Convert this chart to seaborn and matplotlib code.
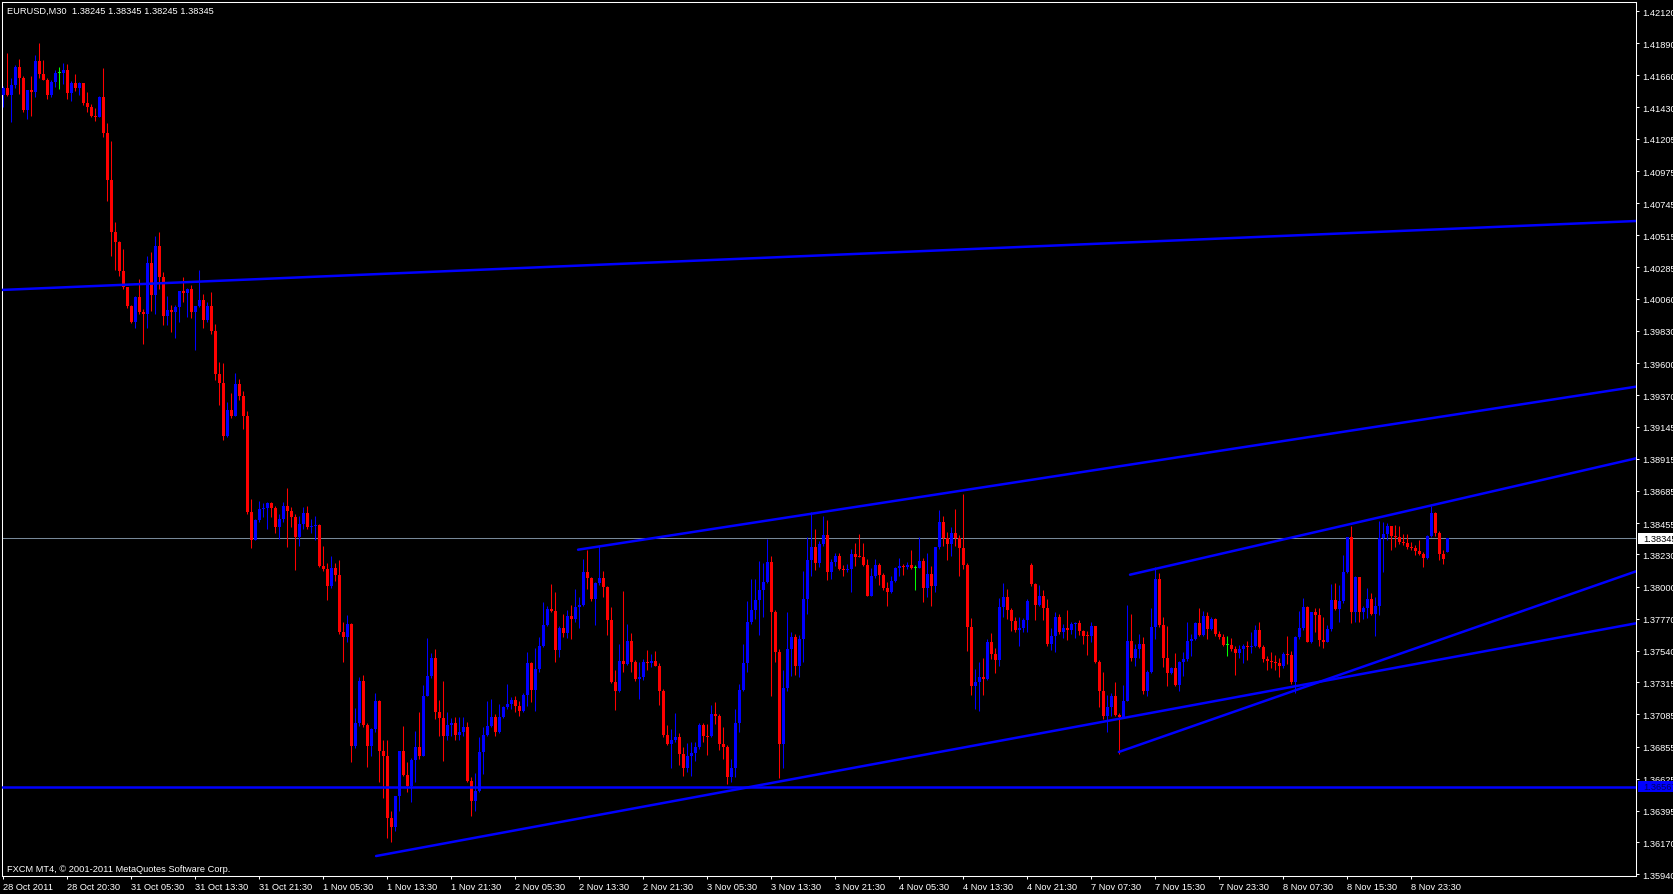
import matplotlib
matplotlib.use("Agg")
import matplotlib.pyplot as plt
import matplotlib.transforms as mtransforms
import numpy as np
import pandas as pd
import seaborn as sns

# --- Textos do gráfico ---
chart_title = "EURUSD,M30  1.38245 1.38345 1.38245 1.38345"
footer_text = "FXCM MT4, \u00a9 2001-2011 MetaQuotes Software Corp."

# --- Candles M30 ---
first_open = 1.41521
gap_opens = {257: 1.38154, 361: 1.38245}   # aberturas com gap (segunda-feira / barra atual)

close_px = [
    1.41569, 1.41521, 1.41593, 1.41719, 1.41643, 1.41411, 1.41554, 1.41538, 1.41762, 1.41669,  # 0
    1.41628, 1.41521, 1.41612, 1.41678, 1.41678, 1.41697, 1.41535, 1.41604, 1.41569, 1.41604,  # 10
    1.41464, 1.41430, 1.41368, 1.41364, 1.41507, 1.41249, 1.40910, 1.40538, 1.40469, 1.40256,  # 20
    1.40142, 1.40008, 1.39891, 1.40073, 1.39963, 1.39951, 1.40316, 1.40089, 1.40435, 1.40218,  # 30
    1.39939, 1.39979, 1.39967, 1.40003, 1.40115, 1.40104, 1.40130, 1.39967, 1.40008, 1.40051,  # 40
    1.39908, 1.40008, 1.39829, 1.39523, 1.39455, 1.39078, 1.39263, 1.39220, 1.39448, 1.39363,  # 50
    1.39220, 1.38536, 1.38333, 1.38476, 1.38554, 1.38565, 1.38597, 1.38565, 1.38426, 1.38483,  # 60
    1.38579, 1.38544, 1.38501, 1.38355, 1.38451, 1.38529, 1.38429, 1.38435, 1.38440, 1.38145,  # 70
    1.38127, 1.38002, 1.38134, 1.38084, 1.37674, 1.37641, 1.37735, 1.36862, 1.37023, 1.37325,  # 80
    1.37008, 1.36861, 1.36980, 1.37180, 1.36822, 1.36789, 1.36343, 1.36280, 1.36499, 1.36822,  # 90
    1.36651, 1.36574, 1.36758, 1.36849, 1.36789, 1.37218, 1.37357, 1.37486, 1.37104, 1.37056,  # 100
    1.36932, 1.37008, 1.37023, 1.36939, 1.36956, 1.36992, 1.36610, 1.36467, 1.36538, 1.36813,  # 110
    1.36937, 1.36999, 1.37063, 1.36956, 1.37063, 1.37135, 1.37156, 1.37187, 1.37147, 1.37109,  # 120
    1.37223, 1.37452, 1.37261, 1.37409, 1.37572, 1.37724, 1.37839, 1.37825, 1.37545, 1.37700,  # 130
    1.37667, 1.37786, 1.37767, 1.37851, 1.37867, 1.38101, 1.38058, 1.37910, 1.38025, 1.38058,  # 140
    1.37999, 1.37760, 1.37314, 1.37254, 1.37467, 1.37445, 1.37612, 1.37462, 1.37338, 1.37354,  # 150
    1.37457, 1.37455, 1.37467, 1.37433, 1.37254, 1.36937, 1.36872, 1.36901, 1.36920, 1.36801,  # 160
    1.36701, 1.36784, 1.36808, 1.36849, 1.37008, 1.36932, 1.36927, 1.37087, 1.37075, 1.36872,  # 170
    1.36854, 1.36640, 1.36700, 1.37023, 1.37260, 1.37453, 1.37744, 1.37832, 1.37904, 1.37976,  # 180
    1.38030, 1.38178, 1.37820, 1.37534, 1.36873, 1.37272, 1.37553, 1.37641, 1.37429, 1.37625,  # 190
    1.37911, 1.38190, 1.38281, 1.38169, 1.38302, 1.38369, 1.38107, 1.38178, 1.38221, 1.38126,  # 200
    1.38121, 1.38126, 1.38233, 1.38214, 1.38212, 1.38155, 1.37935, 1.38073, 1.38155, 1.38083,  # 210
    1.37990, 1.37964, 1.38040, 1.38131, 1.38145, 1.38140, 1.38155, 1.38133, 1.38133, 1.38183,  # 220
    1.37990, 1.38088, 1.38007, 1.38281, 1.38460, 1.38345, 1.38305, 1.38384, 1.38345, 1.38276,  # 230
    1.38157, 1.37708, 1.37291, 1.37319, 1.37350, 1.37338, 1.37601, 1.37517, 1.37477, 1.37856,  # 240
    1.37923, 1.37832, 1.37756, 1.37691, 1.37701, 1.37763, 1.37899, 1.38018, 1.37868, 1.37930,  # 250
    1.37847, 1.37589, 1.37649, 1.37780, 1.37672, 1.37701, 1.37691, 1.37732, 1.37739, 1.37684,  # 260
    1.37649, 1.37645, 1.37715, 1.37458, 1.37255, 1.37071, 1.37136, 1.37214, 1.37081, 1.37069,  # 270
    1.37183, 1.37608, 1.37489, 1.37553, 1.37589, 1.37255, 1.37386, 1.37708, 1.38054, 1.37725,  # 280
    1.37486, 1.37381, 1.37415, 1.37295, 1.37458, 1.37482, 1.37613, 1.37625, 1.37737, 1.37653,  # 290
    1.37787, 1.37696, 1.37768, 1.37661, 1.37637, 1.37584, 1.37584, 1.37553, 1.37525, 1.37553,  # 300
    1.37577, 1.37565, 1.37577, 1.37692, 1.37565, 1.37482, 1.37470, 1.37458, 1.37453, 1.37429,  # 310
    1.37517, 1.37510, 1.37315, 1.37641, 1.37701, 1.37851, 1.37606, 1.37816, 1.37797, 1.37620,  # 320
    1.37606, 1.37696, 1.37904, 1.37840, 1.37899, 1.38102, 1.38353, 1.37816, 1.38066, 1.37816,  # 330
    1.37844, 1.37911, 1.37804, 1.37859, 1.38345, 1.38376, 1.38431, 1.38360, 1.38355, 1.38317,  # 340
    1.38312, 1.38286, 1.38276, 1.38252, 1.38233, 1.38202, 1.38360, 1.38527, 1.38384, 1.38230,  # 350
    1.38200, 1.38345,                                                                          # 360
]

high_px = [
    1.41585, 1.41819, 1.41638, 1.41733, 1.41776, 1.41655, 1.41556, 1.41657, 1.41805, 1.41891,
    1.41769, 1.41640, 1.41628, 1.41695, 1.41719, 1.41750, 1.41740, 1.41616, 1.41669, 1.41614,
    1.41604, 1.41540, 1.41452, 1.41425, 1.41511, 1.41712, 1.41320, 1.41189, 1.40609, 1.40473,
    1.40416, 1.40147, 1.40015, 1.40077, 1.40201, 1.39987, 1.40366, 1.40395, 1.40507, 1.40538,
    1.40249, 1.40082, 1.40015, 1.40018, 1.40117, 1.40216, 1.40139, 1.40158, 1.40010, 1.40266,
    1.40092, 1.40039, 1.40111, 1.39883, 1.39605, 1.39598, 1.39320, 1.39384, 1.39527, 1.39484,
    1.39398, 1.39256, 1.38625, 1.38483, 1.38615, 1.38601, 1.38608, 1.38604, 1.38579, 1.38519,
    1.38608, 1.38704, 1.38572, 1.38519, 1.38508, 1.38572, 1.38579, 1.38483, 1.38508, 1.38447,
    1.38287, 1.38170, 1.38216, 1.38170, 1.38187, 1.37746, 1.37796, 1.37742, 1.37130, 1.37350,
    1.37366, 1.37020, 1.36985, 1.37237, 1.37185, 1.36901, 1.36901, 1.36395, 1.36499, 1.36822,
    1.37004, 1.36741, 1.36770, 1.36963, 1.37099, 1.37295, 1.37629, 1.37522, 1.37552, 1.37187,
    1.37323, 1.37099, 1.37059, 1.37063, 1.37063, 1.37063, 1.37027, 1.36634, 1.36665, 1.36920,
    1.36992, 1.37183, 1.37195, 1.37087, 1.37159, 1.37147, 1.37302, 1.37207, 1.37214, 1.37183,
    1.37237, 1.37529, 1.37462, 1.37557, 1.37636, 1.37891, 1.37863, 1.38018, 1.37963, 1.37715,
    1.37803, 1.37834, 1.37867, 1.37982, 1.37927, 1.38197, 1.38261, 1.38066, 1.38034, 1.38292,
    1.38108, 1.38004, 1.37851, 1.37404, 1.37588, 1.37968, 1.37732, 1.37667, 1.37476, 1.37457,
    1.37481, 1.37548, 1.37514, 1.37536, 1.37452, 1.37264, 1.37008, 1.36980, 1.37094, 1.36951,
    1.36849, 1.36880, 1.36884, 1.36884, 1.37023, 1.37023, 1.37015, 1.37152, 1.37171, 1.37087,
    1.36992, 1.36866, 1.36766, 1.37124, 1.37303, 1.37589, 1.37899, 1.38054, 1.38054, 1.38185,
    1.38169, 1.38341, 1.38221, 1.37830, 1.37553, 1.37403, 1.37816, 1.37672, 1.37661, 1.37653,
    1.38114, 1.38353, 1.38536, 1.38412, 1.38329, 1.38503, 1.38477, 1.38197, 1.38240, 1.38240,
    1.38155, 1.38162, 1.38269, 1.38312, 1.38376, 1.38312, 1.38197, 1.38133, 1.38197, 1.38169,
    1.38098, 1.38030, 1.38078, 1.38138, 1.38202, 1.38162, 1.38178, 1.38262, 1.38155, 1.38353,
    1.38205, 1.38240, 1.38150, 1.38286, 1.38548, 1.38508, 1.38388, 1.38424, 1.38555, 1.38369,
    1.38663, 1.38166, 1.37773, 1.37410, 1.37458, 1.37486, 1.37625, 1.37665, 1.37558, 1.37916,
    1.38026, 1.37983, 1.37844, 1.37780, 1.37780, 1.37773, 1.37911, 1.38169, 1.38026, 1.38011,
    1.37978, 1.37911, 1.37704, 1.37816, 1.37804, 1.37732, 1.37832, 1.37744, 1.37744, 1.37760,
    1.37692, 1.37684, 1.37749, 1.37720, 1.37477, 1.37386, 1.37224, 1.37236, 1.37319, 1.37093,
    1.37295, 1.37868, 1.37804, 1.37589, 1.37661, 1.37637, 1.37405, 1.37844, 1.38138, 1.38097,
    1.37780, 1.37720, 1.37422, 1.37525, 1.37470, 1.37529, 1.37749, 1.37661, 1.37744, 1.37844,
    1.37828, 1.37816, 1.37780, 1.37775, 1.37684, 1.37661, 1.37649, 1.37630, 1.37577, 1.37582,
    1.37589, 1.37613, 1.37672, 1.37725, 1.37744, 1.37582, 1.37501, 1.37534, 1.37510, 1.37486,
    1.37534, 1.37644, 1.37541, 1.37649, 1.37828, 1.37916, 1.37859, 1.37821, 1.37844, 1.37844,
    1.37780, 1.37725, 1.38018, 1.38026, 1.38011, 1.38226, 1.38357, 1.38436, 1.38073, 1.38071,
    1.37863, 1.37987, 1.37954, 1.37923, 1.38472, 1.38460, 1.38455, 1.38436, 1.38441, 1.38436,
    1.38376, 1.38376, 1.38317, 1.38298, 1.38333, 1.38245, 1.38369, 1.38579, 1.38536, 1.38400,
    1.38260, 1.38345,
]

low_px = [
    1.41430, 1.41514, 1.41328, 1.41571, 1.41526, 1.41399, 1.41347, 1.41371, 1.41507, 1.41640,
    1.41626, 1.41490, 1.41502, 1.41573, 1.41561, 1.41597, 1.41490, 1.41478, 1.41550, 1.41521,
    1.41447, 1.41399, 1.41363, 1.41335, 1.41363, 1.41220, 1.40760, 1.40368, 1.40268, 1.40220,
    1.40130, 1.39991, 1.39886, 1.39848, 1.39951, 1.39740, 1.39854, 1.39975, 1.39951, 1.40130,
    1.39872, 1.39872, 1.39819, 1.39776, 1.39891, 1.40034, 1.39927, 1.39924, 1.39694, 1.39999,
    1.39848, 1.39891, 1.39811, 1.39480, 1.39302, 1.39049, 1.39071, 1.39206, 1.39220, 1.39338,
    1.39131, 1.38519, 1.38276, 1.38333, 1.38465, 1.38501, 1.38412, 1.38501, 1.38387, 1.38344,
    1.38465, 1.38280, 1.38429, 1.38120, 1.38294, 1.38412, 1.38412, 1.38387, 1.38333, 1.38138,
    1.38109, 1.37906, 1.37991, 1.38038, 1.37664, 1.37461, 1.37603, 1.36745, 1.36845, 1.37000,
    1.36992, 1.36710, 1.36789, 1.36956, 1.36603, 1.36486, 1.36200, 1.36170, 1.36250, 1.36395,
    1.36646, 1.36531, 1.36455, 1.36603, 1.36765, 1.36784, 1.37214, 1.37342, 1.37051, 1.36932,
    1.36753, 1.36901, 1.36932, 1.36901, 1.36901, 1.36932, 1.36598, 1.36355, 1.36395, 1.36526,
    1.36658, 1.36927, 1.36992, 1.36927, 1.36951, 1.37059, 1.37123, 1.37123, 1.37104, 1.37075,
    1.37104, 1.37147, 1.37171, 1.37111, 1.37385, 1.37564, 1.37715, 1.37815, 1.37462, 1.37498,
    1.37636, 1.37629, 1.37624, 1.37743, 1.37703, 1.37858, 1.37982, 1.37899, 1.37724, 1.38013,
    1.37922, 1.37653, 1.37309, 1.37118, 1.37247, 1.37385, 1.37440, 1.37390, 1.37321, 1.37195,
    1.37333, 1.37404, 1.37421, 1.37428, 1.37152, 1.36920, 1.36868, 1.36701, 1.36889, 1.36724,
    1.36641, 1.36674, 1.36641, 1.36753, 1.36837, 1.36884, 1.36796, 1.36920, 1.37015, 1.36832,
    1.36766, 1.36590, 1.36600, 1.36640, 1.36961, 1.37250, 1.37386, 1.37732, 1.37768, 1.37653,
    1.37780, 1.38026, 1.37219, 1.37458, 1.36630, 1.36700, 1.37255, 1.37362, 1.37367, 1.37355,
    1.37458, 1.37804, 1.38078, 1.38119, 1.38138, 1.38293, 1.38047, 1.38054, 1.38150, 1.38121,
    1.38078, 1.38107, 1.37964, 1.38150, 1.38209, 1.38145, 1.37930, 1.37942, 1.38059, 1.38011,
    1.37978, 1.37863, 1.37954, 1.38030, 1.38078, 1.38083, 1.38126, 1.38126, 1.37978, 1.38133,
    1.37892, 1.37923, 1.37863, 1.37959, 1.38269, 1.38293, 1.38190, 1.38221, 1.38288, 1.38078,
    1.38126, 1.37541, 1.37224, 1.37124, 1.37112, 1.37224, 1.37334, 1.37482, 1.37381, 1.37434,
    1.37780, 1.37768, 1.37684, 1.37677, 1.37572, 1.37672, 1.37672, 1.38002, 1.37763, 1.37863,
    1.37763, 1.37577, 1.37548, 1.37534, 1.37661, 1.37630, 1.37620, 1.37661, 1.37630, 1.37650,
    1.37589, 1.37510, 1.37606, 1.37453, 1.37136, 1.37052, 1.36961, 1.37076, 1.37076, 1.36800,
    1.37064, 1.37178, 1.37470, 1.37434, 1.37486, 1.37231, 1.37214, 1.37381, 1.37625, 1.37708,
    1.37422, 1.37291, 1.37374, 1.37291, 1.37255, 1.37358, 1.37470, 1.37505, 1.37620, 1.37649,
    1.37649, 1.37625, 1.37692, 1.37649, 1.37625, 1.37577, 1.37505, 1.37541, 1.37367, 1.37486,
    1.37453, 1.37477, 1.37525, 1.37565, 1.37558, 1.37458, 1.37405, 1.37415, 1.37405, 1.37350,
    1.37415, 1.37446, 1.37303, 1.37238, 1.37625, 1.37692, 1.37601, 1.37596, 1.37672, 1.37577,
    1.37558, 1.37601, 1.37684, 1.37835, 1.37749, 1.37882, 1.38097, 1.37739, 1.37749, 1.37744,
    1.37768, 1.37773, 1.37799, 1.37649, 1.37797, 1.38107, 1.38336, 1.38264, 1.38281, 1.38305,
    1.38298, 1.38269, 1.38264, 1.38226, 1.38226, 1.38143, 1.38197, 1.38353, 1.38365, 1.38190,
    1.38160, 1.38245,
]

# --- Eixo de tempo (um rótulo a cada 16 barras de 30 min) ---
time_labels = [
    "28 Oct 2011", "28 Oct 20:30", "31 Oct 05:30", "31 Oct 13:30", "31 Oct 21:30",
    "1 Nov 05:30", "1 Nov 13:30", "1 Nov 21:30", "2 Nov 05:30", "2 Nov 13:30",
    "2 Nov 21:30", "3 Nov 05:30", "3 Nov 13:30", "3 Nov 21:30", "4 Nov 05:30",
    "4 Nov 13:30", "4 Nov 21:30", "7 Nov 07:30", "7 Nov 15:30", "7 Nov 23:30",
    "8 Nov 07:30", "8 Nov 15:30", "8 Nov 23:30",
]
bars_per_label = 16

# --- Escala de preços ---
price_ticks = [
    1.42120, 1.41890, 1.41660, 1.41430, 1.41205, 1.40975, 1.40745, 1.40515, 1.40285, 1.40060,
    1.39830, 1.39600, 1.39370, 1.39145, 1.38915, 1.38685, 1.38455, 1.38230, 1.38000, 1.37770,
    1.37540, 1.37315, 1.37085, 1.36855, 1.36625, 1.36395, 1.36170, 1.35940,
]
bid_price = 1.38345
level_price = 1.36567

# --- Linhas de tendência: (barras, preços) ---
top_line = ([0.0, 408.2], [1.40124, 1.40617])
ray_lines = [
    ([143.7, 408.2], [1.38264, 1.39431]),
    ([281.7, 408.2], [1.38085, 1.38918]),
    ([278.9, 408.2], [1.36816, 1.38109]),
    ([93.2, 408.2], [1.36071, 1.37737]),
]

# --- Estilo ---
sns.set_style("dark", {"axes.facecolor": "black", "figure.facecolor": "black",
                       "axes.edgecolor": "white", "text.color": "white",
                       "xtick.color": "white", "ytick.color": "white"})
plt.rcParams["font.family"] = ["Liberation Sans", "DejaVu Sans"]
FS = 6.65
BULL, BEAR, DOJI = "#0000FF", "#FF0000", "#00FF00"

W, H = 1674, 895
fig = plt.figure(figsize=(W / 100, H / 100), dpi=100)
ax_left, ax_right, ax_top, ax_bottom = 2, 1636, 2.7, 877
ax = fig.add_axes([ax_left / W, 1 - ax_bottom / H,
                   (ax_right - ax_left) / W, (ax_bottom - ax_top) / H])
ymin, ymax = 1.35928, 1.42187
ax.set_xlim(-0.33, 408.2)
ax.set_ylim(ymin, ymax)
one_px = (ymax - ymin) / (ax_bottom - ax_top)

# --- Candles ---
df = pd.DataFrame({"close": close_px, "high": high_px, "low": low_px})
df["bar"] = np.arange(len(df))
df["open"] = df["close"].shift(1)
df.loc[0, "open"] = first_open
for k, v in gap_opens.items():
    df.loc[k, "open"] = v
df["high"] = df[["high", "open", "close"]].max(axis=1)
df["low"] = df[["low", "open", "close"]].min(axis=1)
diff = df["close"] - df["open"]
df["color"] = np.where(diff > 1e-7, BULL, np.where(diff < -1e-7, BEAR, DOJI))
body = np.maximum(diff.abs(), one_px)
bottom = np.minimum(df["open"], df["close"]) - (body - diff.abs()) / 2

ax.vlines(df["bar"], df["low"], df["high"], colors=df["color"], lw=0.75, zorder=2)
ax.bar(df["bar"], body, bottom=bottom, width=0.75, color=df["color"], lw=0, zorder=3)

# --- Linha de preço atual e nível horizontal ---
ax.axhline(bid_price, color="#778899", lw=0.75, zorder=1)
ax.axhline(level_price, color="#0000FF", lw=1.8, zorder=5)

# --- Linhas de tendência (seaborn) ---
rows = []
for n, (xs, ys) in enumerate([top_line] + ray_lines):
    slope = (ys[1] - ys[0]) / (xs[1] - xs[0])
    x0 = -5 if n == 0 else xs[0]
    for x in (x0, 415):
        rows.append({"line": n, "bar": x, "price": ys[0] + slope * (x - xs[0])})
lines_df = pd.DataFrame(rows)
sns.lineplot(data=lines_df, x="bar", y="price", units="line", estimator=None,
             color="#0000FF", lw=1.8, ax=ax, zorder=5, legend=False)
ax.set_xlim(-0.33, 408.2)
ax.set_ylim(ymin, ymax)

# --- Eixos ---
for s in ax.spines.values():
    s.set_visible(True)
    s.set_color("white")
    s.set_linewidth(0.75)

ax.yaxis.tick_right()
ax.set_yticks(price_ticks)
ax.set_yticklabels([f"{p:.5f}" for p in price_ticks])
ax.tick_params(axis="y", right=True, left=False, labelright=True, labelleft=False,
               direction="out", length=2.2, width=0.75, pad=2.2, labelsize=FS,
               colors="white")

ax.set_xticks([i * bars_per_label for i in range(len(time_labels))])
ax.set_xticklabels(time_labels)
ax.tick_params(axis="x", bottom=True, direction="out", length=2.5, width=0.75,
               pad=1.5, labelsize=FS, colors="white")
for lab in ax.get_xticklabels():
    lab.set_ha("left")
ax.set_xlabel("")
ax.set_ylabel("")

# --- Caixas de preço no eixo direito ---
tr = mtransforms.blended_transform_factory(fig.transFigure, ax.transData)
for price, face, txt_color in [(bid_price, "white", "black"), (level_price, "#0000FF", "#00005A")]:
    fig.add_artist(plt.Rectangle((1638 / W, price - 5.5 * one_px), 36 / W, 11 * one_px,
                                 transform=tr, facecolor=face, edgecolor="none", zorder=10))
    fig.text(1643 / W, price, f"{price:.5f}", transform=tr, color=txt_color, fontsize=FS,
             va="center", ha="left", zorder=11)

# --- Título e rodapé ---
fig.text(7 / W, 1 - 11 / H, chart_title, color="white", fontsize=FS, va="center", ha="left")
fig.text(7 / W, 1 - 870 / H, footer_text, color="white", fontsize=FS, va="center", ha="left")

fig.savefig("out.png", dpi=100, facecolor="black")
